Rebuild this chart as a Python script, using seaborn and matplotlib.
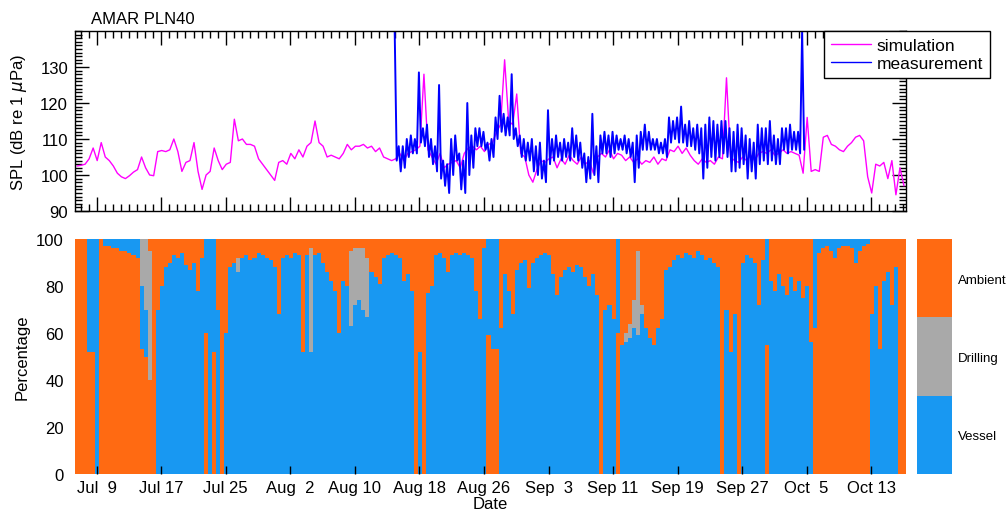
import numpy as np
import pandas as pd
import matplotlib
matplotlib.use("Agg")
import matplotlib.pyplot as plt
import seaborn as sns
from matplotlib.colors import ListedColormap
from matplotlib.ticker import FixedLocator, MultipleLocator

# ---------------- data (half-day steps) ----------------
ORIGIN = pd.Timestamp("2013-07-01")
X_START = 5.31          # left edge of the time axis, days after ORIGIN
N_STEPS = 206           # 0.5-day steps across the panel
MEAS_FIRST = 79         # first half-day step with a measurement

tick_dates = ["2013-07-09", "2013-07-17", "2013-07-25", "2013-08-02", "2013-08-10",
              "2013-08-18", "2013-08-26", "2013-09-03", "2013-09-11", "2013-09-19",
              "2013-09-27", "2013-10-05", "2013-10-13"]
tick_labels = ["Jul  9", "Jul 17", "Jul 25", "Aug  2", "Aug 10", "Aug 18", "Aug 26",
               "Sep  3", "Sep 11", "Sep 19", "Sep 27", "Oct  5", "Oct 13"]

simulation = [
    102.5, 102.7, 103.0, 104.5, 107.5, 104.0, 109.0, 105.0, 104.0, 102.5,
    100.5, 99.5, 99.0, 99.8, 100.8, 101.5, 105.0, 102.0, 100.0, 99.8,
    106.5, 106.8, 106.5, 107.0, 110.0, 106.5, 101.0, 103.5, 104.0, 109.0,
    101.0, 96.0, 100.0, 101.0, 107.5, 104.0, 101.5, 103.0, 103.5, 115.5,
    109.5, 110.0, 108.5, 108.5, 108.0, 104.5, 103.0, 101.5, 100.0, 98.5,
    103.5, 104.0, 103.0, 106.0, 104.5, 107.0, 105.0, 108.0, 109.0, 115.0,
    109.0, 108.0, 105.0, 105.5, 105.0, 104.5, 106.0, 108.5, 107.0, 108.0,
    108.0, 108.5, 107.5, 108.0, 106.5, 107.5, 105.0, 104.5, 104.0, 104.5,
    106.0, 104.0, 106.0, 106.5, 107.0, 108.0, 128.0, 107.0, 105.0, 103.0,
    106.0, 102.0, 103.0, 103.5, 104.0, 102.0, 106.0, 107.5, 108.0, 107.0,
    108.0, 106.5, 108.5, 109.0, 112.0, 114.0, 132.0, 115.0, 114.0, 122.5,
    106.0, 105.0, 100.0, 98.0, 101.5, 104.0, 103.5, 104.5, 105.0, 102.0,
    104.5, 103.0, 105.5, 104.0, 103.0, 105.0, 103.0, 104.0, 100.5, 105.0,
    106.0, 105.0, 107.0, 104.5, 106.0, 105.5, 104.0, 105.0, 103.5, 104.5,
    103.0, 104.0, 103.5, 105.0, 103.0, 104.5, 104.0, 107.0, 106.5, 108.0,
    106.0, 107.5, 105.5, 104.0, 103.0, 104.5, 103.5, 104.0, 103.0, 105.0,
    104.5, 127.0, 105.0, 104.0, 103.5, 105.0, 104.0, 105.5, 104.0, 106.0,
    106.5, 106.0, 107.0, 105.5, 106.0, 107.0, 106.0, 106.5, 106.0, 105.5,
    100.5, 116.0, 101.0, 101.5, 101.0, 110.5, 111.0, 108.5, 108.0, 107.0,
    106.5, 108.0, 109.0, 110.5, 111.0, 109.5, 99.5, 95.0, 103.0, 102.5,
    103.5, 99.0, 104.0, 94.5, 102.0, 97.0,
]

# measured SPL: upper and lower edge of the trace within each half-day step
measurement_high = [
    140,
    108, 108, 110, 111, 110, 128.5, 113, 114, 110, 108,
    125, 104, 103, 110, 111, 106, 104, 120, 111, 113,
    113, 112, 109, 110, 116, 122, 117, 116, 128, 113,
    111, 110, 109, 110, 108, 109, 104, 118, 110, 111,
    109, 110, 109, 113, 111, 109, 106, 105, 117, 108,
    111, 112, 111, 112, 111, 110, 111, 110, 109, 111,
    112, 114, 112, 110, 110, 109, 110, 116, 115, 116,
    119, 114, 115, 113, 114, 113, 114, 116, 115, 114,
    115, 115, 113, 112, 114, 113, 111, 110, 109, 114,
    113, 113, 115, 111, 110, 113, 113, 114, 112, 112,
    140,
]
measurement_low = [
    104,
    101, 102, 105, 106, 106, 109, 108, 105, 103, 101,
    99, 97, 95, 100, 104, 96, 95, 100, 102, 108,
    108, 107, 104, 105, 110, 112, 111, 111, 110, 108,
    105, 104, 104, 101, 100, 99, 98, 103, 104, 105,
    104, 105, 104, 105, 104, 102, 98, 99, 100, 98,
    106, 106, 105, 106, 107, 107, 106, 105, 98, 102,
    107, 107, 107, 107, 106, 106, 105, 109, 110, 109,
    109, 108, 108, 107, 106, 99, 102, 105, 104, 105,
    106, 105, 101, 101, 102, 103, 99, 101, 99, 103,
    104, 103, 104, 103, 103, 107, 106, 107, 107, 106,
    107,
]

vessel = [
    0, 0, 0, 48, 48, 100, 0, 3, 3, 4,
    4, 5, 5, 6, 7, 8, 27, 20, 0, 0,
    70, 80, 88, 90, 93, 92, 94, 89, 87, 90,
    78, 92, 40, 100, 48, 70, 0, 60, 88, 90,
    86, 92, 93, 91, 92, 94, 93, 92, 91, 88,
    68, 92, 93, 92, 94, 93, 52, 93, 52, 93,
    94, 90, 86, 82, 78, 60, 82, 80, 63, 72,
    74, 70, 67, 86, 84, 81, 92, 93, 94, 93,
    92, 82, 85, 78, 0, 52, 0, 77, 80, 93,
    94, 92, 86, 93, 94, 93, 94, 93, 92, 78,
    66, 96, 41, 47, 47, 62, 85, 78, 68, 87,
    90, 91, 79, 90, 92, 93, 94, 93, 85, 76,
    84, 87, 88, 86, 89, 88, 84, 80, 85, 76,
    0, 70, 72, 66, 40, 55, 56, 58, 62, 59,
    68, 62, 58, 55, 62, 66, 87, 88, 91, 93,
    92, 94, 93, 92, 95, 93, 91, 92, 90, 88,
    0, 70, 52, 68, 0, 90, 93, 92, 90, 72,
    91, 45, 82, 78, 85, 80, 76, 84, 78, 82,
    75, 80, 56, 38, 6, 4, 3, 5, 8, 4,
    3, 3, 4, 10, 5, 3, 2, 68, 80, 53,
    82, 86, 72, 88, 0, 0,
]

drilling = [
    0, 0, 0, 0, 0, 0, 0, 0, 0, 0,
    0, 0, 0, 0, 0, 0, 20, 30, 55, 0,
    0, 0, 0, 0, 0, 0, 0, 0, 0, 0,
    0, 0, 0, 0, 0, 0, 0, 0, 0, 0,
    6, 0, 0, 0, 0, 0, 0, 0, 0, 0,
    0, 0, 0, 0, 0, 0, 0, 0, 44, 0,
    0, 0, 0, 0, 0, 0, 0, 0, 32, 24,
    22, 26, 25, 0, 0, 0, 0, 0, 0, 0,
    0, 0, 0, 0, 0, 0, 0, 0, 0, 0,
    0, 0, 0, 0, 0, 0, 0, 0, 0, 0,
    0, 0, 0, 0, 0, 0, 0, 0, 0, 0,
    0, 0, 0, 0, 0, 0, 0, 0, 0, 0,
    0, 0, 0, 0, 0, 0, 0, 0, 0, 0,
    0, 0, 0, 0, 0, 0, 4, 6, 12, 36,
    4, 0, 0, 0, 0, 0, 0, 0, 0, 0,
    0, 0, 0, 0, 0, 0, 0, 0, 0, 0,
    0, 0, 0, 0, 0, 0, 0, 0, 0, 0,
    0, 0, 0, 0, 0, 0, 0, 0, 0, 0,
    0, 0, 0, 0, 0, 0, 0, 0, 0, 0,
    0, 0, 0, 0, 0, 0, 0, 0, 0, 0,
    0, 0, 0, 0, 0, 0,
]

# ambient share that sits underneath the vessel share in some columns
ambient_low = [
    0, 0, 0, 52, 52, 0, 0, 97, 97, 96,
    96, 95, 95, 94, 93, 92, 53, 50, 40, 0,
    0, 0, 0, 0, 0, 0, 0, 0, 0, 0,
    0, 0, 60, 0, 52, 0, 0, 0, 0, 0,
    0, 0, 0, 0, 0, 0, 0, 0, 0, 0,
    0, 0, 0, 0, 0, 0, 0, 0, 0, 0,
    0, 0, 0, 0, 0, 0, 0, 0, 0, 0,
    0, 0, 0, 0, 0, 0, 0, 0, 0, 0,
    0, 0, 0, 0, 0, 0, 0, 0, 0, 0,
    0, 0, 0, 0, 0, 0, 0, 0, 0, 0,
    0, 0, 59, 53, 53, 0, 0, 0, 0, 0,
    0, 0, 0, 0, 0, 0, 0, 0, 0, 0,
    0, 0, 0, 0, 0, 0, 0, 0, 0, 0,
    0, 0, 0, 0, 60, 0, 0, 0, 0, 0,
    0, 0, 0, 0, 0, 0, 0, 0, 0, 0,
    0, 0, 0, 0, 0, 0, 0, 0, 0, 0,
    0, 0, 0, 0, 0, 0, 0, 0, 0, 0,
    0, 55, 0, 0, 0, 0, 0, 0, 0, 0,
    0, 0, 0, 62, 94, 96, 97, 95, 92, 96,
    97, 97, 96, 90, 95, 97, 98, 0, 0, 0,
    0, 0, 0, 0, 0, 0,
]

# ---------------- styling ----------------
C_SIM = "#ff00ff"
C_MEAS = "#0000ff"
C_AMB = "#ff6a12"
C_DRL = "#a9a9a9"
C_VES = "#1898f2"
FS = 12

sns.set_theme(style="white")
plt.rcParams["font.family"] = ["Liberation Sans", "DejaVu Sans"]
plt.rcParams["axes.edgecolor"] = "black"
plt.rcParams["xtick.color"] = "black"
plt.rcParams["ytick.color"] = "black"
plt.rcParams["text.color"] = "black"
plt.rcParams["axes.labelcolor"] = "black"

x_centers = X_START + 0.25 + 0.5 * np.arange(N_STEPS)
n_meas = len(measurement_high)
xm = x_centers[MEAS_FIRST:MEAS_FIRST + n_meas]
x_meas = np.column_stack([xm - 0.125, xm + 0.125]).ravel()
y_meas = np.column_stack([measurement_high, measurement_low]).ravel()
tick_pos = [(pd.Timestamp(d) - ORIGIN).days for d in tick_dates]
x_end = X_START + 0.5 * N_STEPS

fig = plt.figure(figsize=(10.06, 5.10), dpi=100)
L, W = 75 / 1006, 831 / 1006
ax1 = fig.add_axes([L, 1 - 212 / 510, W, 180 / 510])
ax2 = fig.add_axes([L, 1 - 475 / 510, W, 235 / 510])
cax = fig.add_axes([917 / 1006, 1 - 475 / 510, 35 / 1006, 235 / 510])

# ---------------- top panel ----------------
sns.lineplot(x=x_centers, y=simulation, ax=ax1, color=C_SIM, lw=1.0,
             estimator=None, sort=False, label="simulation")
sns.lineplot(x=x_meas, y=y_meas, ax=ax1, color=C_MEAS, lw=1.4,
             estimator=None, sort=False, label="measurement")
ax1.set_xlim(X_START, x_end)
ax1.set_ylim(90, 140)
ax1.set_yticks([90, 100, 110, 120, 130])
ax1.yaxis.set_minor_locator(MultipleLocator(1))
ax1.xaxis.set_major_locator(FixedLocator(tick_pos))
ax1.xaxis.set_minor_locator(MultipleLocator(1))
ax1.tick_params(which="both", direction="in", top=True, right=True,
                bottom=True, left=True, labelbottom=False, width=1)
ax1.tick_params(which="major", length=10)
ax1.tick_params(which="minor", length=5)
ax1.tick_params(axis="y", labelsize=FS, pad=5)
for s in ax1.spines.values():
    s.set_color("black")
    s.set_linewidth(1)
ax1.set_ylabel(r"SPL (dB re 1 $\mu$Pa)", fontsize=FS)
ax1.yaxis.set_label_coords(-0.055, 0.5)
ax1.set_xlabel("")
leg = ax1.legend(loc="upper right", bbox_to_anchor=(990 / 1006, 1 - 32 / 510),
                 bbox_transform=fig.transFigure, fontsize=12.5, frameon=True,
                 fancybox=False, framealpha=1, edgecolor="black",
                 handlelength=2.3, borderpad=0.4, labelspacing=0.15,
                 borderaxespad=0, handletextpad=0.35)
leg.get_frame().set_linewidth(1)
for h in leg.get_lines():
    h.set_linewidth(1.0)
fig.text(91 / 1006, 1 - 19 / 510, "AMAR PLN40", fontsize=FS, va="center", ha="left")

# ---------------- bottom panel ----------------
ambient = np.clip(100 - np.array(vessel) - np.array(drilling) - np.array(ambient_low), 0, 100)
df = pd.concat([
    pd.DataFrame({"day": x_centers, "pct": ambient, "source": "Ambient"}),
    pd.DataFrame({"day": x_centers, "pct": drilling, "source": "Drilling"}),
    pd.DataFrame({"day": x_centers, "pct": vessel, "source": "Vessel"}),
    pd.DataFrame({"day": x_centers, "pct": ambient_low, "source": "Ambient (under)"}),
], ignore_index=True)
sns.histplot(data=df, x="day", weights="pct", hue="source",
             hue_order=["Ambient", "Drilling", "Vessel", "Ambient (under)"],
             palette={"Ambient": C_AMB, "Drilling": C_DRL, "Vessel": C_VES,
                      "Ambient (under)": C_AMB},
             multiple="stack", binwidth=0.5, binrange=(X_START, x_end),
             element="step", fill=True, alpha=1, linewidth=0, legend=False, ax=ax2)
ax2.set_xlim(X_START, x_end)
ax2.set_ylim(0, 100)
ax2.set_yticks([0, 20, 40, 60, 80, 100])
ax2.set_xticks(tick_pos)
ax2.set_xticklabels(tick_labels)
ax2.set_axisbelow(False)
ax2.tick_params(axis="x", direction="in", length=6, width=1, bottom=True,
                labelsize=FS, pad=4)
ax2.tick_params(axis="y", length=0, labelsize=FS, pad=8)
for s in ax2.spines.values():
    s.set_visible(False)
ax2.set_ylabel("Percentage", fontsize=FS)
ax2.yaxis.set_label_coords(-0.055, 0.5)
ax2.set_xlabel("Date", fontsize=FS, labelpad=1)

# ---------------- category key ----------------
sns.heatmap(np.array([[0], [1], [2]]), cmap=ListedColormap([C_AMB, C_DRL, C_VES]),
            vmin=0, vmax=2, cbar=False, ax=cax, xticklabels=False,
            yticklabels=["Ambient", "Drilling", "Vessel"])
cax.yaxis.tick_right()
cax.tick_params(axis="y", length=0, labelsize=9.5, pad=4.5, labelrotation=0)
cax.set_ylabel("")

fig.savefig("out.png", dpi=100)
